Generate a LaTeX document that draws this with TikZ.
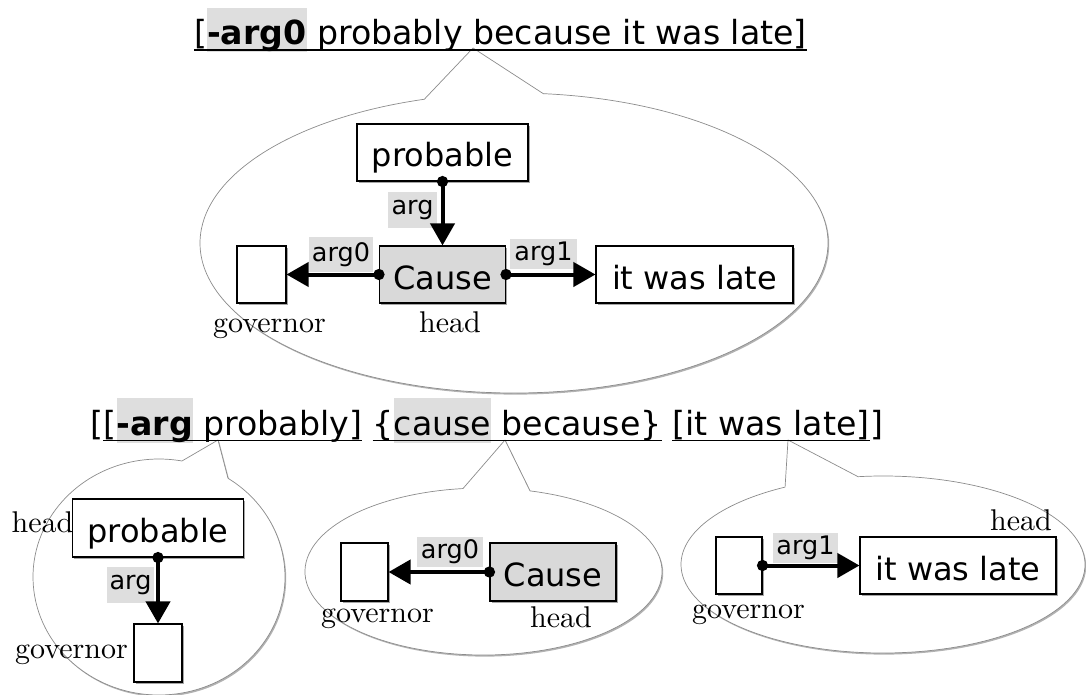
\documentclass[tikz,border=0pt]{standalone}
\usepackage{fontspec}
\newfontfamily\dvsans{DejaVu Sans}
\newfontfamily\cmten{lmroman10-regular}[Extension=.otf]
\usetikzlibrary{arrows.meta,shadows}
\definecolor{hlgray}{gray}{0.87}
\definecolor{boxgray}{gray}{0.85}
\definecolor{bubbleline}{gray}{0.55}
% gray highlight behind a word of a bracketed phrase
\newcommand\hlbox[1]{\begingroup\setbox0=\hbox{#1}%
  \rlap{\color{hlgray}\rule[-0.24em]{\wd0}{1.35em}}\box0\endgroup}

\begin{document}
\begin{tikzpicture}[x=1pt,y=-1pt,
  bubblestyle/.style={draw=bubbleline, line width=0.7pt, fill=white, line join=round,
    drop shadow={shadow xshift=1.2pt, shadow yshift=-1.6pt, opacity=0.3, fill=black}},
  wordbox/.style={draw=black, line width=1.1pt, fill=white, inner sep=0pt,
    font=\dvsans\fontsize{32}{38}\selectfont, text height=29pt, text depth=0pt,
    drop shadow={shadow xshift=1.8pt, shadow yshift=-1.8pt, opacity=0.35, fill=black}},
  headbox/.style={wordbox, fill=boxgray},
  emptybox/.style={wordbox, minimum width=47pt, minimum height=57pt},
  rolelabel/.style={fill=hlgray, inner sep=0pt, font=\dvsans\fontsize{25.5}{30}\selectfont},
  cmlabel/.style={font=\cmten\fontsize{30}{34}\selectfont, inner sep=0pt, anchor=base},
  headline/.style={font=\dvsans\fontsize{33.2}{40}\selectfont, inner sep=0pt, anchor=base west},
  relarrow/.style={line width=4pt, {Circle[length=11pt]}-{Triangle[length=22pt,width=24pt]},
    shorten <=-5.5pt},
  uline/.style={line width=1.4pt},
]
\useasboundingbox (0,0) rectangle (1086,695);

% ---------- callout bubbles ----------
\draw[bubblestyle] (473,48) -- ([shift={(514,243)}]-84.65:314 and 150)
  arc[start angle=-84.65, end angle=253.4, x radius=314, y radius=150] -- cycle;
\draw[bubblestyle] (218,440) -- ([shift={(159,577)}]-56.8:126 and 118)
  arc[start angle=-56.8, end angle=280.5, x radius=126, y radius=118] -- cycle;
\draw[bubblestyle] (505,440) -- ([shift={(483.5,571.5)}]-74.9:178.5 and 83.5)
  arc[start angle=-74.9, end angle=263.4, x radius=178.5, y radius=83.5] -- cycle;
\draw[bubblestyle] (788,440) -- ([shift={(883,564.5)}]-97.1:202 and 88.5)
  arc[start angle=-97.1, end angle=241.0, x radius=202, y radius=88.5] -- cycle;

% ---------- phrase lines ----------
\node[headline] (top) at (194,44.5) {[\hlbox{\bfseries -arg0} probably because it was late]};
\draw[uline] ([yshift=-5.5pt]top.base west) -- ([yshift=-5.5pt]top.base east);

\node[headline] (b0) at (90,435) {[};
\node[headline] (b1) at (b0.base east) {[\hlbox{\bfseries -arg} probably]};
\node[headline] (b2) at ([xshift=10.4pt]b1.base east) {\{\hlbox{cause} because\}};
\node[headline] (b3) at ([xshift=10.4pt]b2.base east) {[it was late]};
\node[headline] (b4) at (b3.base east) {]};
\foreach \n in {b1,b2,b3}
  \draw[uline] ([yshift=-5.5pt]\n.base west) -- ([yshift=-5.5pt]\n.base east);

% ---------- upper structure ----------
\node[wordbox, minimum width=171pt, minimum height=57pt] (tProb) at (442.5,152.5) {probable};
\node[headbox, minimum width=126pt, minimum height=57pt] (tCause) at (442.5,274.5) {Cause};
\node[emptybox, minimum width=49pt] (tGov) at (261.5,274.5) {};
\node[wordbox, minimum width=197pt, minimum height=57pt] (tLate) at (694.5,274.5) {it was late};
\node[rolelabel, minimum width=49pt, minimum height=36pt] (tArg) at (412.5,210) {arg};
\node[rolelabel, minimum width=64pt, minimum height=35pt] (tArg0) at (341,254.5) {arg0};
\node[rolelabel, minimum width=67pt, minimum height=30pt] (tArg1) at (543.5,253.5) {arg1};
\draw[relarrow] (tProb.south) -- (tCause.north);
\draw[relarrow] (tCause.west) -- (tGov.east);
\draw[relarrow] (tCause.east) -- (tLate.west);
\node[cmlabel] (tGovText) at (269.5,332) {governor};
\node[cmlabel] (tHeadText) at (450,332) {head};

% ---------- lower left: probable ----------
\node[wordbox, minimum width=171pt, minimum height=58pt] (lProb) at (158,528) {probable};
\node[emptybox, minimum width=48pt, minimum height=58pt] (lGov) at (158,653) {};
\node[rolelabel, minimum width=47pt, minimum height=36pt] (lArg) at (130.5,585) {arg};
\draw[relarrow] (lProb.south) -- (lGov.north);
\node[cmlabel] (lHeadText) at (42.5,532) {head};
\node[cmlabel] (lGovText) at (71.5,658) {governor};

% ---------- lower middle: cause ----------
\node[emptybox, minimum height=58pt] (mGov) at (364.5,572) {};
\node[headbox, minimum width=126pt, minimum height=58pt] (mCause) at (553,572) {Cause};
\node[rolelabel, minimum width=66pt, minimum height=30pt] (mArg0) at (450,552) {arg0};
\draw[relarrow] (mCause.west) -- (mGov.east);
\node[cmlabel] (mHeadText) at (561,627) {head};
\node[cmlabel] (mGovText) at (377.5,622) {governor};

% ---------- lower right: it was late ----------
\node[emptybox, minimum width=46pt] (rGov) at (739,565.5) {};
\node[wordbox, minimum width=196pt, minimum height=57pt] (rLate) at (958,565.5) {it was late};
\node[rolelabel, minimum width=65pt, minimum height=30pt] (rArg1) at (805.5,548) {arg1};
\draw[relarrow] (rGov.east) -- (rLate.west);
\node[cmlabel] (rHeadText) at (1021,530) {head};
\node[cmlabel] (rGovText) at (748.5,618) {governor};
\end{tikzpicture}
\end{document}
